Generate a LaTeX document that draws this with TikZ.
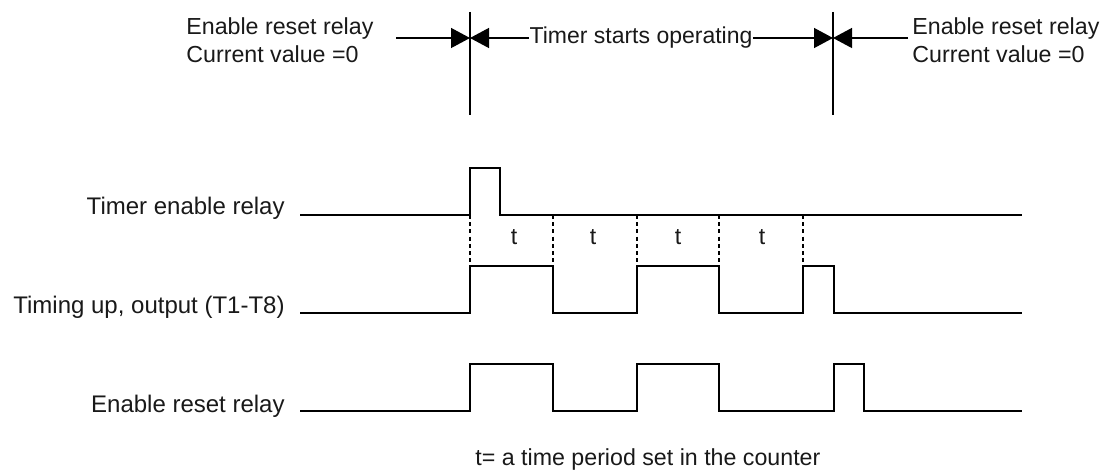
\documentclass[tikz,border=0pt]{standalone}
\usepackage{fontspec}
\setmainfont{Liberation Sans}
\usetikzlibrary{arrows.meta}

\tikzset{
  lbl/.style={font=\fontsize{11.6}{14}\selectfont, inner sep=0pt, text=black!90},
  siglbl/.style={lbl, font=\fontsize{12}{14}\selectfont, anchor=base east},
  dimline/.style={line width=0.65pt},
  dimarrow/.style={dimline, -{Triangle[length=9.5pt,width=10pt]}},
  wave/.style={line width=1.1pt, line join=miter},
  tick/.style={line width=1pt, dash pattern=on 2pt off 1.6pt},
}

\begin{document}
\begin{tikzpicture}[x=0.5pt,y=-0.5pt]
    \useasboundingbox (0,0) rectangle (1106,470);

    % Reset and start markers
    \coordinate (m1top) at (470,12);
    \coordinate (m1bot) at (470,115);
    \coordinate (m2top) at (833,12);
    \coordinate (m2bot) at (833,115);
    \draw[dimline] (m1top) -- (m1bot);
    \draw[dimline] (m2top) -- (m2bot);

    \coordinate (m1) at (470,38);
    \coordinate (m2) at (833,38);
    \coordinate (a1) at (396,38);

    \node[lbl, anchor=west, align=left] (resetL) at (186,40) {Enable reset relay\\Current value =0};
    \node[lbl, font=\fontsize{11.5}{14}\selectfont] (run) at (641,38) {Timer starts operating};
    \node[lbl, anchor=west, align=left] (resetR) at (912,40) {Enable reset relay\\Current value =0};

    \draw[dimarrow] (a1) -- (m1);
    \draw[dimarrow] (run.west) -- (m1);
    \draw[dimarrow] (run.east) -- (m2);
    \draw[dimarrow] ([xshift=-2pt]resetR.west |- m2) -- (m2);

    % Signal names
    \node[siglbl] (enLbl) at (285,214) {Timer enable relay};
    \node[siglbl] (upLbl) at (285,313) {Timing up, output (T1-T8)};
    \node[siglbl] (rsLbl) at (285,412) {Enable reset relay};

    % Waveforms
    \draw[wave] (300,215) -| (470,168) -| (500,215) -- (1022,215);
    \draw[wave] (300,313) -| (470,266) -| (553,313) -| (637,266) -| (719,313)
                -| (803,266) -| (834,313) -- (1022,313);
    \draw[wave] (300,411) -| (470,364) -| (553,411) -| (637,364) -| (719,411)
                -| (834,364) -| (864,411) -- (1022,411);

    % Time periods
    \foreach \x in {470,553,637,719,803}
        \draw[tick] (\x,215) -- (\x,266);
    \foreach \x/\n in {514/1,593/2,678/3,762/4}
        \node[lbl] (t\n) at (\x,237) {t};

    \node[lbl, anchor=base west] (note) at (475,465) {t= a time period set in the counter};
\end{tikzpicture}
\end{document}
